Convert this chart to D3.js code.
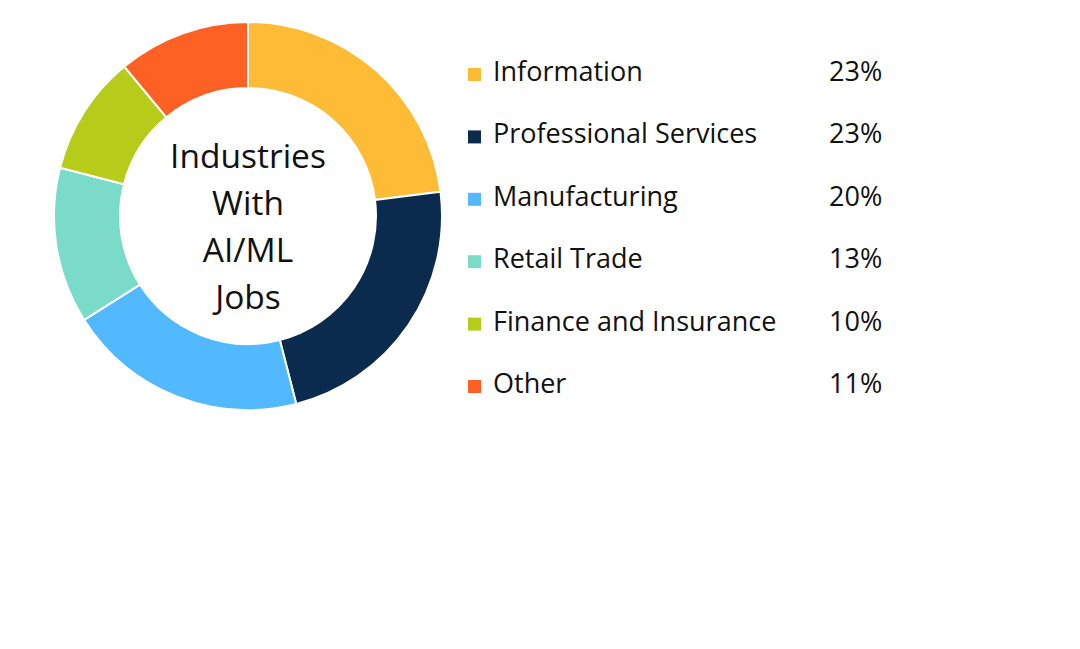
<!DOCTYPE html>
<html>
<head>
<meta charset="utf-8">
<script src="https://cdn.jsdelivr.net/npm/d3@7"></script>
<style>
  body { margin: 0; background: #fff; }
  svg { display: block; }
  text { font-family: "Open Sans", sans-serif; fill: #111; }
</style>
</head>
<body>
<svg width="1080" height="649"></svg>
<script>
// chart data
const industries = ["Information", "Professional Services", "Manufacturing", "Retail Trade", "Finance and Insurance", "Other"];
const shares = [23, 23, 20, 13, 10, 11];
const shareLabels = ["23%", "23%", "20%", "13%", "10%", "11%"];
const sliceColors = ["#fdbb36", "#0a2a4e", "#52b9ff", "#7adbc8", "#b7cc1a", "#ff6023"];
const centerLines = ["Industries", "With", "AI/ML", "Jobs"];

const svg = d3.select("svg");

const cx = 248, cy = 216;
const outerR = 194, innerR = 128;

const pie = d3.pie().sort(null).value(d => d);
const arc = d3.arc().innerRadius(innerR).outerRadius(outerR);

const g = svg.append("g").attr("transform", `translate(${cx},${cy})`);

g.selectAll("path")
  .data(pie(shares))
  .enter().append("path")
  .attr("d", arc)
  .attr("fill", (d, i) => sliceColors[i])
  .attr("stroke", "#fff")
  .attr("stroke-width", 2);

// label in the hole
g.selectAll("text.center")
  .data(centerLines)
  .enter().append("text")
  .attr("class", "center")
  .attr("text-anchor", "middle")
  .attr("x", 0)
  .attr("y", (d, i) => -48 + i * 47)
  .style("font-size", "33.5px")
  .text(d => d);

// legend
const rowY = d3.scalePoint()
  .domain(industries)
  .range([81, 393]);

const legend = svg.append("g");

const rows = legend.selectAll("g")
  .data(industries)
  .enter().append("g")
  .attr("transform", d => `translate(0,${rowY(d)})`);

rows.append("rect")
  .attr("x", 468)
  .attr("y", -13)
  .attr("width", 13)
  .attr("height", 13)
  .attr("fill", (d, i) => sliceColors[i]);

rows.append("text")
  .attr("x", 493)
  .attr("y", 0)
  .style("font-size", "27px")
  .text(d => d);

rows.append("text")
  .attr("x", 829)
  .attr("y", 0)
  .style("font-size", "27px")
  .text((d, i) => shareLabels[i]);
</script>
</body>
</html>
